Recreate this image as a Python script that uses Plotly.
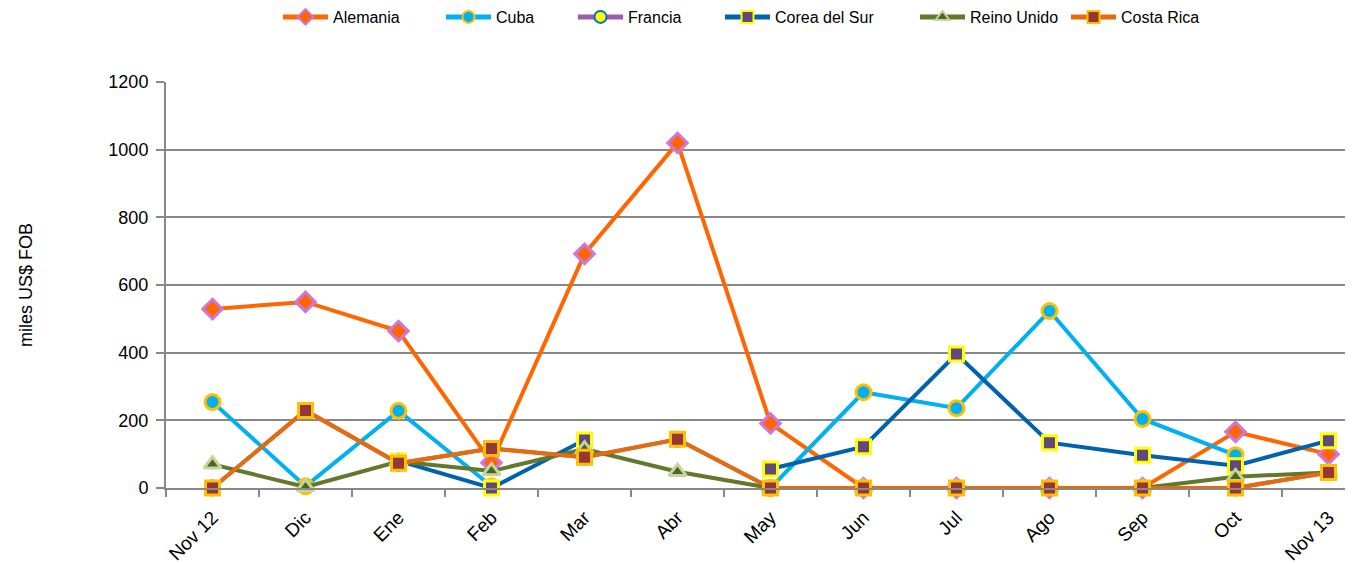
import plotly.graph_objects as go

months = ["Nov 12", "Dic", "Ene", "Feb", "Mar", "Abr", "May", "Jun", "Jul", "Ago", "Sep", "Oct", "Nov 13"]

alemania = [529, 550, 464, 75, 692, 1020, 191, 0, 0, 0, 0, 166, 100]
cuba = [254, 5, 228, 5, None, None, 0, 283, 236, 523, 204, 97, None]
costa_rica = [0, 229, 73, 117, 91, 144, 0, 0, 0, 0, 0, 0, 46]
francia = [0, 229, 73, 117, 91, 144, 0, 0, 0, 0, 0, 0, 46]
corea = [None, None, 80, 0, 142, None, 56, 122, 396, 134, 97, 66, 140]
reino_unido = [70, 3, 78, 50, 115, 48, 0, 0, 0, 0, 0, 33, 46]

series = [
    ("Alemania", alemania, "#ff6600", "diamond", "#ff6600", "#cc77dd", 15),
    ("Cuba", cuba, "#00b0f0", "circle", "#00b0f0", "#ffc000", 15),
    ("Francia", francia, "#a05aac", "circle", "#ffff00", "#0070c0", 14),
    ("Corea del Sur", corea, "#0062ac", "square", "#604a7b", "#ffff00", 14),
    ("Reino Unido", reino_unido, "#63782a", "triangle-up", "#4f6228", "#c3d69b", 15),
    ("Costa Rica", costa_rica, "#e46c0a", "square", "#953735", "#ffc000", 14),
]
legend_px = [285, 448, 580, 727, 922, 1073]

# page has an 8px body margin
OFF = 8
W, H = 1353 - OFF, 564 - OFF
L, T, B = 166 - OFF, 82 - OFF, 564 - 488
pw = W - L
ph = H - T - B

x = list(range(len(months)))
fig = go.Figure()
layout_legends = {}
for i, ((name, vals, lc, sym, fc, bc, sz), lx) in enumerate(zip(series, legend_px)):
    lname = "legend" if i == 0 else f"legend{i+1}"
    fig.add_trace(go.Scatter(
        x=x, y=vals, name=name, mode="lines+markers",
        line=dict(color=lc, width=4),
        marker=dict(symbol=sym, size=sz, color=fc, line=dict(color=bc, width=3)),
        connectgaps=False, cliponaxis=False, legend=lname,
    ))
    layout_legends[lname] = dict(
        orientation="h", x=(lx - 7 - 166) / pw, xanchor="left",
        y=1 + (82 - 17) / ph, yanchor="middle",
        font=dict(size=16), itemwidth=45, itemsizing="constant",
        bgcolor="rgba(0,0,0,0)", borderwidth=0,
    )

fig.update_layout(
    width=W, height=H,
    margin=dict(l=L, r=0, t=T, b=B, autoexpand=False),
    paper_bgcolor="white", plot_bgcolor="white",
    font=dict(family="Liberation Sans, Arial, sans-serif", color="#000000"),
    showlegend=True,
    **layout_legends,
)
fig.update_xaxes(
    range=[-0.5, -0.5 + pw / 93.0], tickvals=x, ticktext=months, tickangle=-45,
    tickfont=dict(size=19), ticks="", showgrid=False, zeroline=False,
    showline=True, linecolor="#888888", linewidth=2, automargin=False,
    ticklabelstandoff=9,
    minor=dict(tick0=0.5, dtick=1, ticks="outside", ticklen=7, tickcolor="#888888", tickwidth=2, showgrid=False),
)
fig.update_yaxes(
    range=[0, 1200], dtick=200, tickfont=dict(size=18),
    showgrid=True, gridcolor="#888888", gridwidth=1.5,
    zeroline=False, showline=True, linecolor="#888888", linewidth=2,
    ticks="outside", ticklen=8, tickcolor="#888888", tickwidth=2, automargin=False,
    ticklabelstandoff=4,
    title=dict(text="miles US$ FOB", font=dict(size=18), standoff=71),
)
fig.write_html("out.html")
